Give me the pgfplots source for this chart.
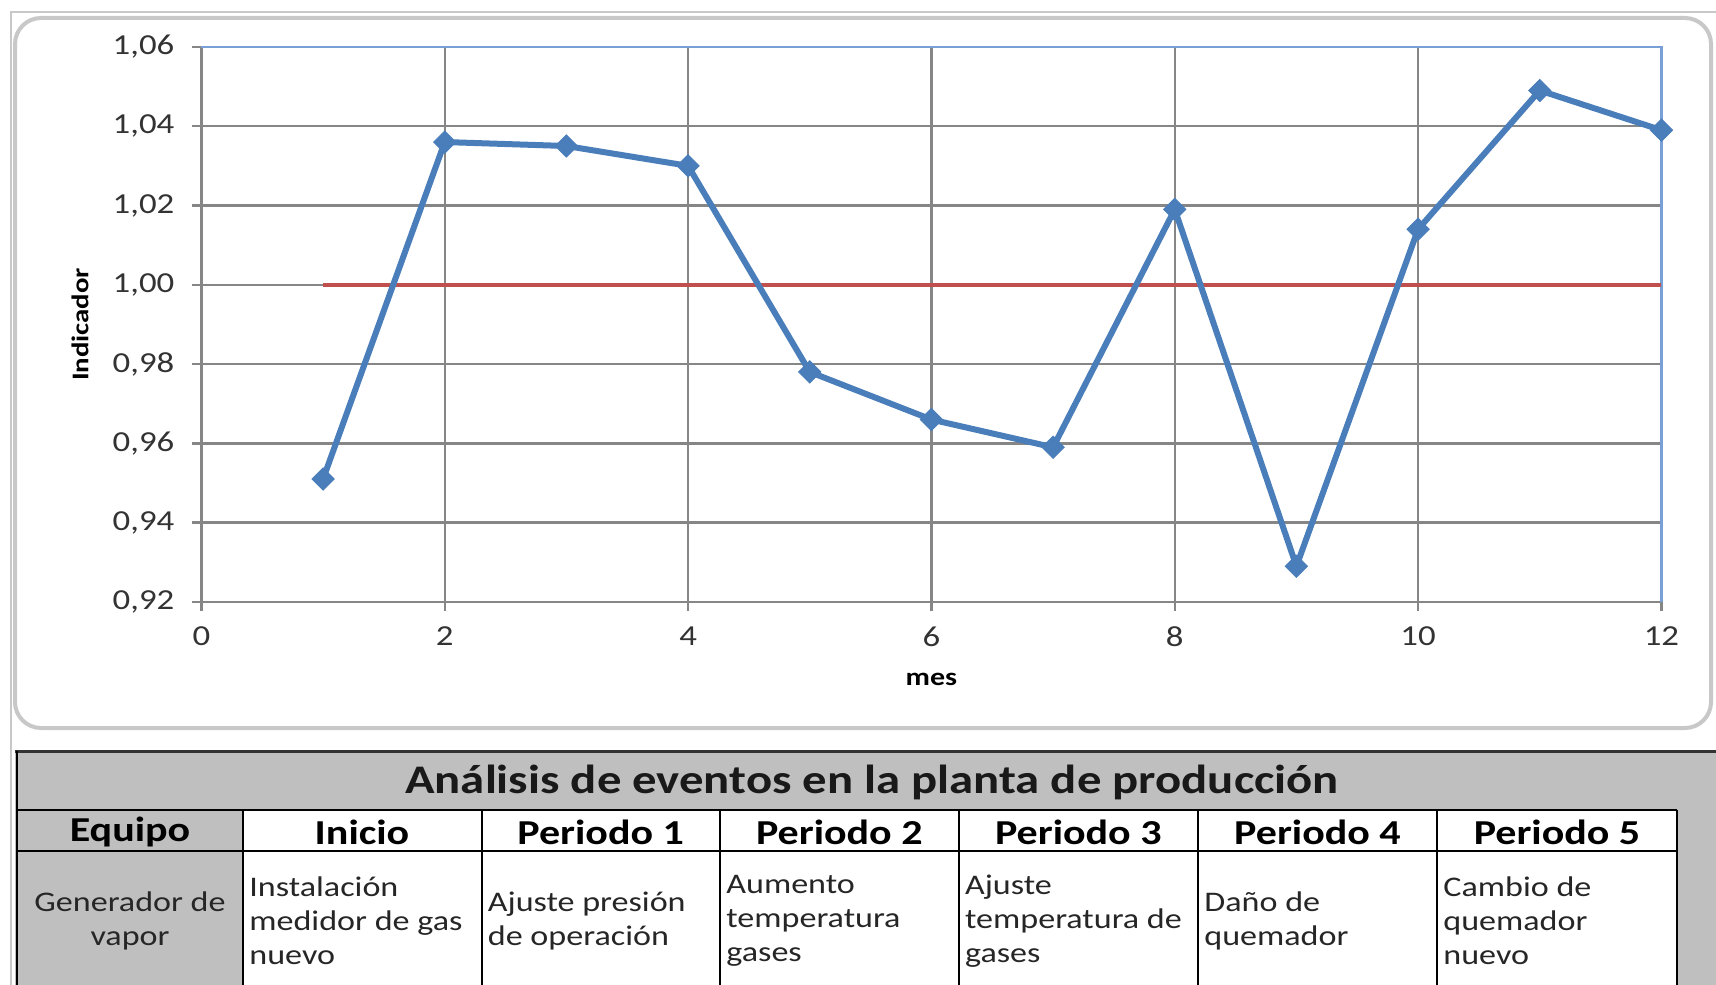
\documentclass[border=0pt]{standalone}
\usepackage{fontspec}
\setmainfont[FakeStretch=1.2]{Carlito}
\usepackage{pgfplots}
\pgfplotsset{compat=1.18}
\definecolor{serie}{RGB}{74,126,187}
\definecolor{linered}{RGB}{192,80,77}
\definecolor{gridgray}{RGB}{134,134,134}
\definecolor{axgray}{RGB}{134,134,134}
\definecolor{borderblue}{RGB}{120,160,215}
\definecolor{tgray}{RGB}{191,191,191}
\definecolor{framegray}{RGB}{200,200,200}
\begin{document}
\begin{tikzpicture}[x=0.5pt,y=0.5pt]
\useasboundingbox (0,0) rectangle (1716,-984);
\fill[white] (0,0) rectangle (1716,-984);
% outer frame lines
\draw[color=framegray, line width=1pt] (11,-990) -- (11,-12) -- (1720,-12);
\draw[color=framegray, line width=2pt, rounded corners=13pt] (15,-18) rectangle (1711,-728);
\begin{axis}[
  at={(100.7pt,-300.95pt)}, anchor=south west,
  scale only axis, width=730pt, height=277.5pt,
  xmin=0, xmax=12, ymin=0.92, ymax=1.06,
  xtick={0,2,4,6,8,10,12},
  ytick={0.92,0.94,0.96,0.98,1.00,1.02,1.04,1.06},
  axis lines*=left,
  axis line style={draw=axgray, line width=1.2pt},
  tick align=outside, major tick length=4.5pt,
  tick style={draw=axgray, line width=1.2pt},
  grid=major, grid style={draw=gridgray, line width=1.2pt},
  /pgf/number format/assume math mode=true,
  yticklabel style={/pgf/number format/.cd, fixed, fixed zerofill, precision=2, use comma, /tikz/.cd, xshift=-5.5pt},
  xticklabel style={yshift=-4.5pt},
  ticklabel style={font=\fontsize{14.5}{16}\selectfont, text=black!80},
  xlabel={mes}, ylabel={Indicador},
  xlabel style={at={(axis description cs:0.5,-0.14)}, anchor=center, font=\fontsize{12.5}{14}\selectfont\bfseries},
  ylabel style={at={(axis description cs:-0.0832,0.5)}, anchor=center, rotate=0, font=\fontsize{12}{14}\selectfont\bfseries},
  clip=false,
]
\draw[borderblue, line width=1.2pt] (rel axis cs:0,1) -- (rel axis cs:1,1) -- (rel axis cs:1,0);
\addplot[color=linered, line width=2.2pt] coordinates {(1,1.00) (12,1.00)};
\addplot[color=serie, line width=3pt, mark=square*, mark size=3.9pt,
  mark options={solid, rotate=45, fill=serie, draw=serie, line width=0.5pt}] coordinates {
  (1,0.951) (2,1.036) (3,1.035) (4,1.030) (5,0.978) (6,0.966)
  (7,0.959) (8,1.019) (9,0.929) (10,1.014) (11,1.049) (12,1.039)};
\end{axis}
% ---- table ----
\fill[tgray] (15,-751) rectangle (1720,-990);
\fill[white] (243,-810) rectangle (1677,-990);
\draw[black!80, line width=1.5pt] (15,-751) -- (1720,-751);
\draw[black, line width=1pt] (17,-751) -- (17,-990);
\draw[black, line width=1pt] (17,-810) -- (1677,-810);
\draw[black, line width=1pt] (17,-851) -- (1677,-851);
\foreach \xx in {243,481.5,720,958.7,1198,1437,1677} {
  \draw[black, line width=1pt] (\xx,-810) -- (\xx,-990);
}
\node[font=\fontsize{20.3}{22}\selectfont\bfseries, text=black!90] at (872,-782) {Análisis de eventos en la planta de producción};
\node[font=\fontsize{17.5}{19}\selectfont\bfseries] at (130,-832) {Equipo};
\node[font=\fontsize{17.5}{19}\selectfont\bfseries] at (362,-832) {Inicio};
\node[font=\fontsize{17.5}{19}\selectfont\bfseries] at (600.7,-832) {Periodo 1};
\node[font=\fontsize{17.5}{19}\selectfont\bfseries] at (839.3,-832) {Periodo 2};
\node[font=\fontsize{17.5}{19}\selectfont\bfseries] at (1078.3,-832) {Periodo 3};
\node[font=\fontsize{17.5}{19}\selectfont\bfseries] at (1317.5,-832) {Periodo 4};
\node[font=\fontsize{17.5}{19}\selectfont\bfseries] at (1557,-832) {Periodo 5};
\node[font=\fontsize{14.2}{17}\selectfont, align=center, text=black!85] at (130,-921) {Generador de\\vapor};
\node[font=\fontsize{14.2}{17}\selectfont, align=left, anchor=west, text=black!85, inner xsep=2pt] at (245,-921) {Instalación\\medidor de gas\\nuevo};
\node[font=\fontsize{14.2}{17}\selectfont, align=left, anchor=west, text=black!85, inner xsep=2pt] at (483.5,-921) {Ajuste presión\\de operación};
\node[font=\fontsize{14.2}{17}\selectfont, align=left, anchor=west, text=black!85, inner xsep=2pt] at (722,-921) {Aumento\\temperatura\\gases};
\node[font=\fontsize{14.2}{17}\selectfont, align=left, anchor=west, text=black!85, inner xsep=2pt] at (960.7,-921) {Ajuste\\temperatura de\\gases};
\node[font=\fontsize{14.2}{17}\selectfont, align=left, anchor=west, text=black!85, inner xsep=2pt] at (1200,-921) {Daño de\\quemador};
\node[font=\fontsize{14.2}{17}\selectfont, align=left, anchor=west, text=black!85, inner xsep=2pt] at (1439,-921) {Cambio de\\quemador\\nuevo};
\end{tikzpicture}
\end{document}
